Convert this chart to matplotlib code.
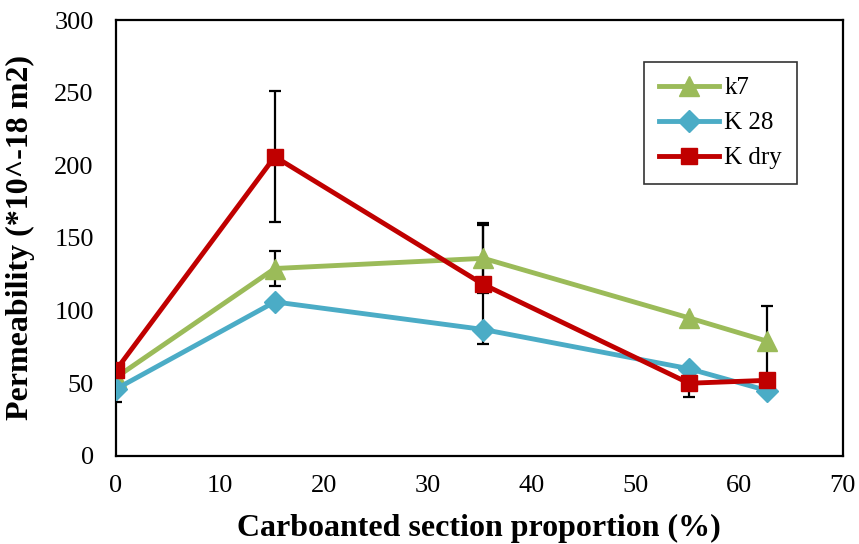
import matplotlib
matplotlib.use("Agg")
import matplotlib.pyplot as plt

plt.rcParams['font.family'] = ['Liberation Serif', 'DejaVu Serif']

# carbonated section proportion (%)
x = [0, 15.3, 35.4, 55.2, 62.7]

k7 = [54, 129, 136, 95, 79]
k7_err = [0, 12, 24, 0, 24]

k28 = [46, 106, 87, 60, 45]
k28_err = [9, 0, 0, 0, 0]

kdry = [59, 206, 118, 50, 52]
kdry_err = [0, 45, 41, 9.5, 0]

labels = ["k7", "K 28", "K dry"]
colors = ["#9BBB59", "#4BACC6", "#C00000"]
markers = ["^", "D", "s"]
sizes = [14, 11, 12]

fig = plt.figure(figsize=(8.59, 5.44), dpi=100)
ax = fig.add_axes([0.135, 0.162, 0.846, 0.801])

series = [(k7, k7_err), (k28, k28_err), (kdry, kdry_err)]

# error bars first (black), then the lines over them
for (y, err) in series:
    xs = [xi for xi, e in zip(x, err) if e > 0]
    ys = [yi for yi, e in zip(y, err) if e > 0]
    es = [e for e in err if e > 0]
    if xs:
        ax.errorbar(xs, ys, yerr=es, fmt='none', ecolor='black',
                    elinewidth=1.6, capsize=4.5, capthick=1.6, zorder=2)

for (y, err), lab, c, m, s in zip(series, labels, colors, markers, sizes):
    ax.plot(x, y, color=c, marker=m, markersize=s, linewidth=3.5,
            label=lab, zorder=3)

ax.set_xlim(0, 70)
ax.set_ylim(0, 300)
ax.set_xticks(range(0, 71, 10))
ax.set_yticks(range(0, 301, 50))
ax.tick_params(length=0, labelsize=19)
ax.tick_params(axis='y', pad=16)
ax.tick_params(axis='x', pad=14)

for sp in ax.spines.values():
    sp.set_linewidth(1.6)

ax.set_xlabel("Carboanted section proportion (%)", fontsize=23,
              fontweight='bold', labelpad=12)
ax.set_ylabel("Permeability (*10^-18 m2)", fontsize=23,
              fontweight='bold', labelpad=14)

leg = ax.legend(loc='upper right', bbox_to_anchor=(0.937, 0.904),
                borderaxespad=0, fontsize=18, frameon=True, fancybox=False,
                handlelength=2.4, borderpad=0.6, labelspacing=0.5,
                handletextpad=0.2)
leg.get_frame().set_edgecolor('black')
leg.get_frame().set_linewidth(1.2)

fig.savefig("out.png", dpi=100)
